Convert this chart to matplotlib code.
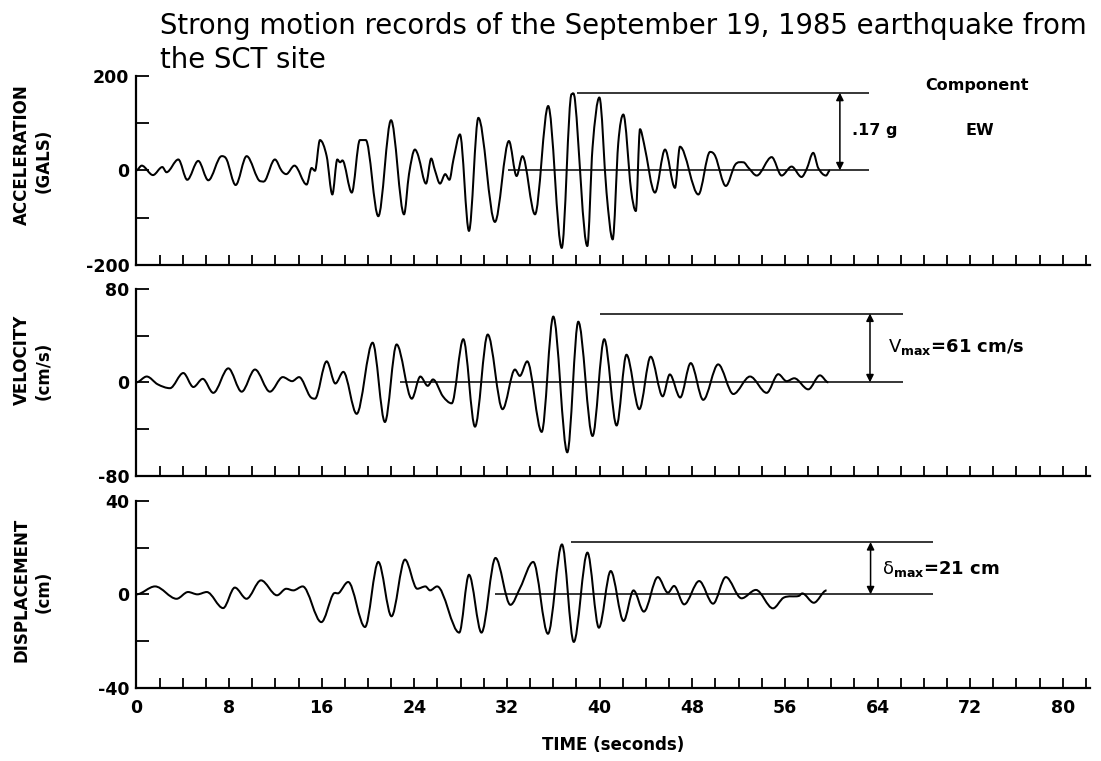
import numpy as np
import matplotlib.pyplot as plt
from matplotlib.ticker import MultipleLocator
from matplotlib.path import Path
from matplotlib.patches import PathPatch

plt.rcParams['font.family'] = ['DejaVu Sans']
plt.rcParams['mathtext.fontset'] = 'custom'
plt.rcParams['mathtext.rm'] = 'DejaVu Sans:bold'
plt.rcParams['mathtext.it'] = 'DejaVu Sans'

# Acceleration (gals)
acc_t = [0.0, 0.46, 1.43, 2.24, 2.6, 3.62, 4.39, 5.34, 6.21, 7.36, 7.79, 8.57, 9.52,
         10.72, 11.13, 11.96, 12.54, 12.94, 13.65, 14.7, 15.13, 15.42, 15.85, 16.43,
         16.92, 17.35, 17.59, 17.79, 18.6, 19.3, 19.81, 20.89, 21.99, 23.11, 23.54,
         24.05, 24.35, 25.01, 25.46, 25.77, 26.22, 26.67, 27.03, 27.38, 27.94, 28.72,
         29.53, 30.96, 32.17, 32.83, 33.34, 34.42, 35.56, 36.73, 37.58, 37.88, 38.94,
         39.39, 39.98, 40.6, 41.13, 41.61, 42.05, 42.71, 43.13, 43.49, 43.83, 44.78,
         45.65, 46.51, 46.94, 48.53, 49.54, 49.99, 50.9, 51.71, 52.42, 52.87, 53.57,
         54.86, 55.72, 56.58, 57.44, 57.87, 58.45, 58.88, 59.55, 59.89]
acc_v = [0, 10, -10, 7, -4, 23, -20, 20, -21, 30, 23, -31, 30,
         -23, -21, 23, -1, -8, 10, -30, 5, -1, 64, 30,
         -51, 23, 17, 21, -47, 64, 64, -97, 106, -93, -8,
         44, 30, -28, 25, 1, -28, -8, -20, 23, 76, -128,
         111, -109, 62, -12, 30, -93, 136, -164, 161, 147, -160,
         48, 154, -47, -146, 57, 118, -40, -86, 87, 57, -47,
         44, -37, 50, -51, 39, 30, -33, 12, 17, 5, -11,
         28, -11, 8, -14, 2, 37, 5, -11, 0]

# Velocity (cm/s)
vel_t = [0.0, 0.89, 1.84, 2.9, 4.05, 4.92, 5.73, 6.64, 7.94, 9.09, 10.24, 11.53,
         12.64, 13.45, 14.05, 14.99, 15.42, 16.43, 17.18, 17.87, 19.02, 20.4, 21.46,
         22.47, 23.78, 24.52, 25.16, 25.61, 26.47, 27.23, 28.23, 29.24, 30.34, 31.62,
         32.69, 33.11, 33.75, 35.0, 36.0, 37.21, 38.16, 39.39, 40.4, 41.47, 42.32,
         43.43, 44.41, 45.45, 46.06, 46.96, 47.87, 48.95, 50.24, 51.55, 52.99, 54.43,
         55.43, 56.15, 56.81, 58.02, 59.03, 59.75]
vel_v = [0, 5, -1.7, -5, 8, -4, 3, -9, 12, -8, 11, -8,
         4.5, 1, 4.5, -12, -14, 18, -1, 9, -27, 34, -34,
         32.5, -14, 5, -3, 2.5, -12, -18, 37, -38, 41, -23,
         11, 5.5, 18, -42.5, 56.4, -60, 52, -46, 37, -37, 23.7,
         -23, 22, -12, 6.8, -13, 16.5, -15, 15.4, -10, 5, -9,
         7, 1, 3.5, -6, 6, 0]

# Displacement (cm)
dis_t = [0.0, 1.61, 3.47, 4.46, 5.27, 6.08, 7.49, 8.5, 9.51, 10.76, 12.14, 12.94,
         13.55, 14.36, 15.97, 16.98, 17.49, 18.29, 19.74, 20.89, 22.03, 23.19, 24.25,
         24.96, 25.36, 25.97, 27.88, 28.72, 29.8, 31.01, 32.3, 33.15, 34.27, 35.54,
         36.75, 37.77, 38.95, 39.94, 40.96, 42.07, 42.93, 43.82, 45.03, 45.9, 46.43,
         47.3, 48.6, 49.8, 50.9, 52.26, 53.5, 54.97, 55.9, 57.2, 57.5, 58.5, 59.6]
dis_v = [0, 3.4, -1.9, 1, 0, 1, -5.9, 2.9, -1.9, 6, -0.4, 2.4,
         1.7, 3.4, -11.9, 0, 0.6, 5.3, -14, 13.9, -9.4, 14.9, 2.4,
         3.4, 1.7, 3.4, -16.4, 8.4, -16.4, 15.6, -4.5, 2.9, 13.9, -16.9,
         21.4, -20.4, 17.9, -14.3, 10, -11.4, 1.7, -7.4, 7.4, 0.7, 3.6,
         -4.3, 5.7, -4, 7.4, -1.7, 1.9, -6, -1.4, -0.7, 0.4, -3.6, 1.7]

# reference lines: (zero line start, top line start, end, top level, arrow position)
acc_ref = (32.1, 38.05, 63.3, 164, 60.75)
vel_ref = (22.8, 40.0, 66.2, 59, 63.35)
dis_ref = (31.0, 37.5, 68.8, 22.4, 63.4)

ylims = [200, 80, 40]
names = ['ACCELERATION', 'VELOCITY', 'DISPLACEMENT']
units = ['(GALS)', '(cm/s)', '(cm)']


def trace_path(t, v):
    # pen-like trace: cubic segments, flat at the peaks
    t = np.asarray(t, float)
    v = np.asarray(v, float)
    m = np.zeros_like(v)
    for i in range(1, len(v) - 1):
        if (v[i] - v[i - 1]) * (v[i + 1] - v[i]) > 0:
            m[i] = (v[i + 1] - v[i - 1]) / (t[i + 1] - t[i - 1])
    verts = [(t[0], v[0])]
    codes = [Path.MOVETO]
    for i in range(len(v) - 1):
        d = t[i + 1] - t[i]
        verts += [(t[i] + d / 3, v[i] + m[i] * d / 3),
                  (t[i + 1] - d / 3, v[i + 1] - m[i + 1] * d / 3),
                  (t[i + 1], v[i + 1])]
        codes += [Path.CURVE4] * 3
    return Path(verts, codes)


W, H = 1101, 761
fig = plt.figure(figsize=(W / 100, H / 100), dpi=100)

# panel boxes in pixels (top, bottom)
boxes = [(75.7, 265.0), (289.0, 475.7), (501.0, 687.7)]
x_left, x_right = 136.4, 1090.0
xmax = (x_right - x_left) / 11.58

axs = []
for (top, bot) in boxes:
    ax = fig.add_axes([x_left / W, 1 - bot / H, (x_right - x_left) / W, (bot - top) / H])
    axs.append(ax)

series = [(acc_t, acc_v, acc_ref), (vel_t, vel_v, vel_ref), (dis_t, dis_v, dis_ref)]
for i, ax in enumerate(axs):
    t, v, ref = series[i]
    lim = ylims[i]
    ax.add_patch(PathPatch(trace_path(t, v), facecolor='none', edgecolor='black',
                           lw=1.45, joinstyle='round'))
    ax.hlines(0, ref[0], ref[2], color='black', lw=1.1)
    ax.hlines(ref[3], ref[1], ref[2], color='black', lw=1.1)
    ax.annotate('', xy=(ref[4], ref[3]), xytext=(ref[4], 0),
                arrowprops=dict(arrowstyle='<|-|>', color='black', lw=1.1,
                                mutation_scale=11, shrinkA=0, shrinkB=0))
    ax.set_xlim(0, xmax)
    ax.set_ylim(-lim, lim)
    for s in ['top', 'right']:
        ax.spines[s].set_visible(False)
    for s in ['left', 'bottom']:
        ax.spines[s].set_linewidth(1.6)
    ax.xaxis.set_major_locator(MultipleLocator(8))
    ax.xaxis.set_minor_locator(MultipleLocator(2))
    ax.yaxis.set_major_locator(MultipleLocator(lim))
    ax.yaxis.set_minor_locator(MultipleLocator(lim / 2))
    ax.tick_params(which='both', direction='in', width=1.3, color='black')
    ax.tick_params(axis='x', which='both', length=7.5, pad=8)
    ax.tick_params(axis='y', which='both', length=9, pad=5)
    ax.set_yticks([-lim, 0, lim])
    ax.set_yticklabels([f'-{lim}', '0', f'{lim}'], fontweight='bold', fontsize=12.5)
    if i < 2:
        ax.tick_params(axis='x', labelbottom=False)
    else:
        ax.set_xticks(np.arange(0, 81, 8))
        ax.set_xticklabels([str(k) for k in range(0, 81, 8)], fontweight='bold', fontsize=12.5)

    ymid = [(155, 161), (360, 371), (590, 592)][i]
    fig.text(22 / W, 1 - ymid[0] / H, names[i], rotation=90, ha='center', va='center',
             fontsize=12, fontweight='bold')
    fig.text(44 / W, 1 - ymid[1] / H, units[i], rotation=90, ha='center', va='center',
             fontsize=12, fontweight='bold')

axs[0].text(72.6, 180, 'Component', ha='center', va='center', fontsize=11.5, fontweight='bold')
axs[0].text(61.8, 85, '.17 g', ha='left', va='center', fontsize=11.5, fontweight='bold')
axs[0].text(72.85, 85, 'EW', ha='center', va='center', fontsize=11.5, fontweight='bold')
axs[1].text(64.9, 30, r'$V_{\rm max}$=61 cm/s', ha='left', va='center', fontsize=13, fontweight='bold')
axs[2].text(64.4, 10.7, r'$\delta_{\rm max}$=21 cm', ha='left', va='center', fontsize=13, fontweight='bold')

axs[2].set_xlabel('TIME (seconds)', fontsize=12, fontweight='bold', labelpad=14)

fig.text(160 / W, 1 - 34 / H,
         'Strong motion records of the September 19, 1985 earthquake from',
         ha='left', va='baseline', fontsize=19.8)
fig.text(160 / W, 1 - 68 / H, 'the SCT site', ha='left', va='baseline', fontsize=19.8)

fig.savefig('out.png', dpi=100)
